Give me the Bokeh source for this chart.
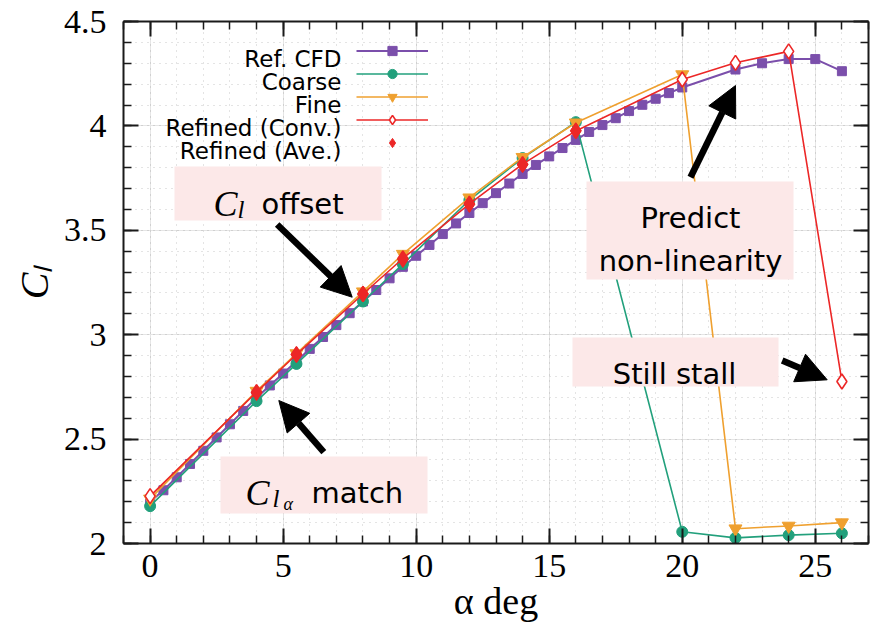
import numpy as np
from bokeh.plotting import figure
from bokeh.models import (LinearAxis, SingleIntervalTicker, Legend, LegendItem, Label, Grid,
                          BoxAnnotation, Arrow, NormalHead, Range1d, CustomJSTickFormatter)
from bokeh.embed import file_html
from bokeh.resources import INLINE

# ---------------- data ----------------
ref_alpha = [0, 0.5, 1, 1.5, 2, 2.5, 3, 3.5, 4, 4.5, 5, 5.5, 6, 6.5, 7, 7.5, 8, 8.5, 9, 9.5,
             10, 10.5, 11, 11.5, 12, 12.5, 13, 13.5, 14, 14.5, 15, 15.5, 16, 16.5, 17, 17.5,
             18, 18.5, 19, 19.5, 20, 22, 23, 24, 25, 26]
ref_cl = [2.200, 2.255, 2.317, 2.381, 2.444, 2.508, 2.571, 2.635, 2.698, 2.757, 2.814, 2.873,
          2.932, 2.989, 3.046, 3.103, 3.159, 3.214, 3.270, 3.325, 3.378, 3.430, 3.482, 3.533,
          3.583, 3.630, 3.678, 3.724, 3.770, 3.813, 3.854, 3.894, 3.933, 3.971, 4.004, 4.037,
          4.071, 4.101, 4.130, 4.157, 4.184, 4.270, 4.300, 4.320, 4.320, 4.262]

mesh_alpha = [0, 4, 5.5, 8, 9.5, 12, 14, 16, 20, 22, 24, 26]
coarse_cl = [2.179, 2.682, 2.860, 3.159, 3.338, 3.645, 3.846, 4.018, 2.056, 2.027, 2.040, 2.049]
fine_cl = [2.214, 2.730, 2.910, 3.206, 3.386, 3.656, 3.850, 4.015, 4.246, 2.071, 2.084, 2.100]
conv_cl = [2.227, 2.725, 2.905, 3.195, 3.365, 3.627, 3.817, 3.976, 4.222, 4.302, 4.357, 2.776]

ave_alpha = [4, 5.5, 8, 9.5, 12, 14, 16]
ave_cl = [2.722, 2.905, 3.195, 3.360, 3.624, 3.814, 3.977]

series_names = ["Ref. CFD", "Coarse", "Fine", "Refined (Conv.)", "Refined (Ave.)"]

y_tick_values = [2, 2.5, 3, 3.5, 4, 4.5]
y_tick_labels = ["2", "2.5", "3", "3.5", "4", "4.5"]

# ---------------- style ----------------
PURPLE = "#7b4fab"
GREEN = "#22a07c"
ORANGE = "#efa02f"
RED = "#ec2727"
AX = "#1a1a1a"
BOX = "#fce8e8"
GRID = "#c9c9c9"
SANS = "DejaVu Sans"
SERIF = "Liberation Serif"

p = figure(frame_width=745, frame_height=522, x_range=Range1d(-1, 27), y_range=Range1d(2, 4.5),
           output_backend="svg", toolbar_location=None,
           min_border_left=123, min_border_right=2, min_border_top=21, min_border_bottom=90,
           x_axis_location=None, y_axis_location=None)
p.outline_line_color = None
p.background_fill_color = "white"

xt = SingleIntervalTicker(interval=5, num_minor_ticks=5)
yt = SingleIntervalTicker(interval=0.5, num_minor_ticks=5)

def style_axis(ax):
    ax.axis_line_width = 2
    ax.axis_line_color = AX
    ax.major_tick_in = 15
    ax.major_tick_out = 0
    ax.minor_tick_in = 8
    ax.minor_tick_out = 0
    ax.major_tick_line_width = 2
    ax.major_tick_line_color = AX
    ax.minor_tick_line_width = 1.5
    ax.minor_tick_line_color = AX
    ax.major_label_text_font = SERIF
    ax.major_label_text_font_size = "34px"
    ax.major_label_text_color = "black"
    ax.axis_label_text_font = SERIF
    ax.axis_label_text_color = "black"

bottom = LinearAxis(ticker=xt)
style_axis(bottom)
bottom.major_label_standoff = 11
bottom.axis_label = "α deg"
bottom.axis_label_text_font_size = "38px"
bottom.axis_label_text_font_style = "normal"
bottom.axis_label_standoff = 0
p.add_layout(bottom, "below")

left = LinearAxis(ticker=yt)
style_axis(left)
left.major_label_standoff = 17
left.major_label_overrides = {v: l for v, l in zip(y_tick_values, y_tick_labels)}
left.axis_label = "Cₗ"
left.axis_label_text_font_size = "40px"
left.axis_label_text_font_style = "italic"
left.axis_label_standoff = 4
p.add_layout(left, "left")

blank = CustomJSTickFormatter(code="return ''")
top = LinearAxis(ticker=xt, formatter=blank)
style_axis(top)
top.major_label_standoff = 0
p.add_layout(top, "above")
right = LinearAxis(ticker=yt, formatter=blank)
style_axis(right)
right.major_label_standoff = 0
p.add_layout(right, "right")

gx = Grid(dimension=0, ticker=xt)
gy = Grid(dimension=1, ticker=yt)
for g in (gx, gy):
    g.grid_line_color = GRID
    g.grid_line_dash = "1 5"
    g.grid_line_width = 1
    g.minor_grid_line_color = GRID
    g.minor_grid_line_dash = "1 5"
    g.minor_grid_line_width = 1
    p.add_layout(g)

# ---------------- series ----------------
r_ref_l = p.line(ref_alpha, ref_cl, line_color=PURPLE, line_width=2)
r_ref_m = p.scatter(ref_alpha, ref_cl, marker="square", size=9, fill_color=PURPLE, line_color=PURPLE)

r_co_l = p.line(mesh_alpha, coarse_cl, line_color=GREEN, line_width=1.6)
r_co_m = p.scatter(mesh_alpha, coarse_cl, marker="circle", size=11, fill_color=GREEN, line_color=GREEN)

r_fi_l = p.line(mesh_alpha, fine_cl, line_color=ORANGE, line_width=1.6)
r_fi_m = p.scatter(mesh_alpha, fine_cl, marker="inverted_triangle", size=13, fill_color=ORANGE, line_color=ORANGE)

r_cv_l = p.line(mesh_alpha, conv_cl, line_color=RED, line_width=1.6)
r_cv_m = p.scatter(mesh_alpha, conv_cl, marker="diamond", size=15, fill_color="white", line_color=RED, line_width=1.6)

r_av_m = p.scatter(ave_alpha, ave_cl, marker="diamond", size=16, fill_color=RED, line_color=RED)

# ---------------- legend (samples via Legend, texts to the left) ----------------
legend = Legend(items=[
    LegendItem(label="", renderers=[r_ref_l, r_ref_m]),
    LegendItem(label="", renderers=[r_co_l, r_co_m]),
    LegendItem(label="", renderers=[r_fi_l, r_fi_m]),
    LegendItem(label="", renderers=[r_cv_l, r_cv_m]),
    LegendItem(label="", renderers=[r_av_m]),
], location=(233, 389))
legend.glyph_width = 72
legend.glyph_height = 23
legend.label_height = 23
legend.label_width = 0
legend.label_standoff = 0
legend.label_text_font_size = "1px"
legend.padding = 0
legend.margin = 0
legend.spacing = 0
legend.border_line_color = None
legend.background_fill_alpha = 0
p.add_layout(legend, "center")

FRAME_BOTTOM = 543  # reference pixel row of the frame bottom
FRAME_LEFT = 123
def sx(x):
    return x - FRAME_LEFT
def sy(y):
    return FRAME_BOTTOM - y

leg_baselines = [58.5, 81.5, 104.5, 127.5, 150.5]
for name, yb in zip(series_names, leg_baselines):
    p.add_layout(Label(x=sx(341), y=sy(yb), x_units="screen", y_units="screen", text=name,
                       text_font=SANS, text_font_size="23px", text_align="right",
                       text_baseline="alphabetic", text_color="black"))

# ---------------- annotation boxes ----------------
def box(x0, x1, y0, y1):
    p.add_layout(BoxAnnotation(left=sx(x0), right=sx(x1), top=sy(y0), bottom=sy(y1),
                               left_units="screen", right_units="screen",
                               top_units="screen", bottom_units="screen",
                               fill_color=BOX, fill_alpha=1, line_color=None))

def txt(x, y, t, font=SANS, size="29px", style="normal", align="left"):
    p.add_layout(Label(x=sx(x), y=sy(y), x_units="screen", y_units="screen", text=t,
                       text_font=font, text_font_size=size, text_font_style=style,
                       text_align=align, text_baseline="alphabetic", text_color="black"))

def arrow(x0, y0, x1, y1):
    p.add_layout(Arrow(x_start=sx(x0), y_start=sy(y0), x_end=sx(x1), y_end=sy(y1),
                       start_units="screen", end_units="screen", line_width=6.5, line_color="black",
                       end=NormalHead(size=30, fill_color="black", line_color="black", line_width=1)))

box(174, 381, 166, 220)
txt(213, 203, "C", font=SERIF, size="36px", style="italic")
txt(237, 209, "l", font=SERIF, size="25px", style="italic")
txt(261, 203, "offset")
arrow(276.7, 224, 351.7, 296.7)

box(220, 427, 456, 513)
txt(245, 492, "C", font=SERIF, size="36px", style="italic")
txt(272, 498, "l", font=SERIF, size="25px", style="italic")
txt(283, 503, "α", font=SERIF, size="18px", style="italic")
txt(311, 492, "match")
arrow(323.3, 451.7, 278.3, 400)

box(586, 793, 181, 279)
txt(690, 217, "Predict", align="center")
txt(690, 260, "non-linearity", align="center")
arrow(690, 176.7, 735, 85)

box(572, 778, 337, 386)
txt(674, 373, "Still stall", align="center")
arrow(781.7, 360, 826.7, 379.3)

open("out.html", "w").write(file_html(p, INLINE))
